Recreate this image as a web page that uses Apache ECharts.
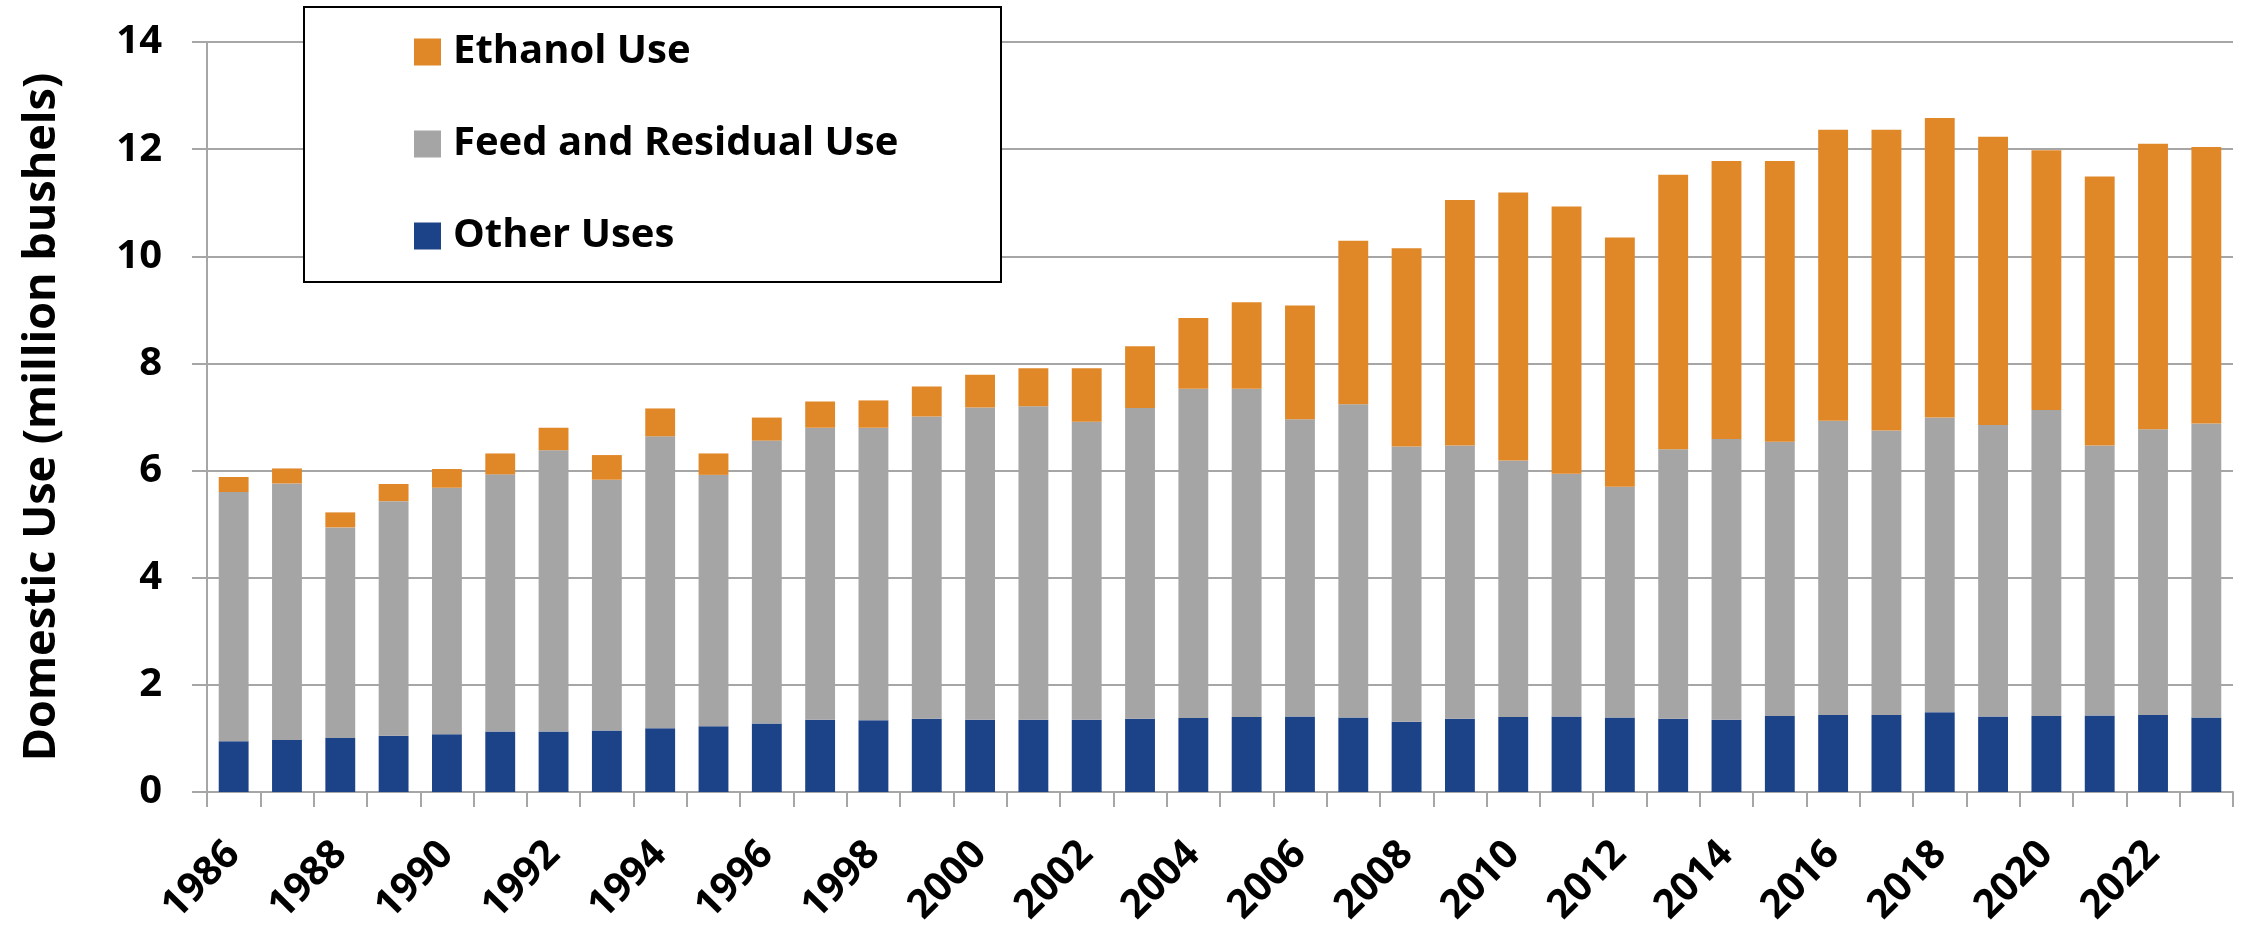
<!DOCTYPE html>
<html>
<head>
<meta charset="utf-8">
<title>Domestic Use</title>
<script src="https://cdn.jsdelivr.net/npm/echarts@6/dist/echarts.min.js"></script>
<style>
  html, body { margin: 0; padding: 0; background: #fff; }
  #container { width: 2244px; height: 929px; }
</style>
</head>
<body>
<div id="container"></div>
<script>
  // categories
  var years = ['1986', '1987', '1988', '1989', '1990', '1991', '1992', '1993', '1994', '1995',
    '1996', '1997', '1998', '1999', '2000', '2001', '2002', '2003', '2004', '2005',
    '2006', '2007', '2008', '2009', '2010', '2011', '2012', '2013', '2014', '2015',
    '2016', '2017', '2018', '2019', '2020', '2021', '2022', '2023'];

  // segment heights
  var otherUses = [0.95, 0.97, 1.01, 1.05, 1.08, 1.13, 1.13, 1.15, 1.19, 1.23,
    1.28, 1.35, 1.34, 1.37, 1.35, 1.35, 1.35, 1.37, 1.38, 1.40,
    1.41, 1.39, 1.31, 1.37, 1.40, 1.41, 1.39, 1.37, 1.35, 1.42,
    1.44, 1.44, 1.49, 1.41, 1.42, 1.43, 1.44, 1.39];
  var feedResidual = [4.65, 4.79, 3.93, 4.38, 4.60, 4.80, 5.25, 4.68, 5.45, 4.69,
    5.28, 5.45, 5.46, 5.64, 5.83, 5.85, 5.56, 5.80, 6.15, 6.13,
    5.55, 5.85, 5.14, 5.10, 4.79, 4.53, 4.31, 5.03, 5.24, 5.12,
    5.49, 5.31, 5.50, 5.44, 5.71, 5.04, 5.33, 5.49];
  var ethanolUse = [0.28, 0.28, 0.28, 0.32, 0.35, 0.39, 0.42, 0.46, 0.52, 0.40,
    0.43, 0.49, 0.51, 0.56, 0.61, 0.71, 1.00, 1.15, 1.32, 1.61,
    2.12, 3.05, 3.70, 4.58, 5.00, 4.99, 4.65, 5.12, 5.19, 5.24,
    5.43, 5.61, 5.59, 5.38, 4.85, 5.02, 5.33, 5.16];

  var legendNames = ['Ethanol Use', 'Feed and Residual Use', 'Other Uses'];

  var axisGray = '#a6a6a6';
  var labelFont = '"Open Sans", sans-serif';

  var chart = echarts.init(document.getElementById('container'));

  var option = {
    animation: false,
    backgroundColor: '#fff',
    color: ['#1c4288', '#a5a5a5', '#e08728'],
    grid: {
      left: 207,
      right: 11,
      top: 42,
      bottom: 133,
      containLabel: false
    },
    // legend frame, drawn over the grid lines
    graphic: [{
      type: 'rect',
      z: 10,
      shape: {x: 304, y: 7, width: 697, height: 275},
      style: {fill: '#fff', stroke: '#000', lineWidth: 2}
    }],
    legend: {
      z: 20,
      orient: 'vertical',
      left: 414,
      top: 27,
      padding: 0,
      itemGap: 42,
      itemWidth: 27,
      itemHeight: 27,
      icon: 'rect',
      selectedMode: false,
      data: legendNames,
      textStyle: {
        fontFamily: labelFont,
        fontWeight: 'bold',
        fontSize: 40,
        color: '#000',
        lineHeight: 50,
        padding: [0, 0, 0, 7]
      }
    },
    xAxis: {
      type: 'category',
      data: years,
      axisLine: {lineStyle: {color: axisGray, width: 2}},
      axisTick: {
        show: true,
        length: 15,
        alignWithLabel: false,
        interval: 0,
        lineStyle: {color: axisGray, width: 2}
      },
      axisLabel: {
        interval: 1,
        rotate: 45,
        margin: 56,
        color: '#000',
        fontFamily: labelFont,
        fontWeight: 'bold',
        fontSize: 40
      },
      splitLine: {show: false}
    },
    yAxis: {
      type: 'value',
      min: 0,
      max: 14,
      interval: 2,
      name: 'Domestic Use (million bushels)',
      nameLocation: 'middle',
      nameRotate: 90,
      nameGap: 142,
      nameTextStyle: {
        fontFamily: '"Open Sans", sans-serif',
        fontWeight: 'bold',
        fontSize: 45,
        color: '#000'
      },
      axisLine: {show: true, lineStyle: {color: axisGray, width: 2}},
      axisTick: {show: true, length: 15, lineStyle: {color: axisGray, width: 2}},
      axisLabel: {
        margin: 45,
        color: '#000',
        fontFamily: labelFont,
        fontWeight: 'bold',
        fontSize: 40
      },
      splitLine: {show: true, lineStyle: {color: axisGray, width: 2}}
    },
    series: [
      {
        name: 'Other Uses',
        type: 'bar',
        stack: 'use',
        barCategoryGap: '44%',
        data: otherUses
      },
      {
        name: 'Feed and Residual Use',
        type: 'bar',
        stack: 'use',
        data: feedResidual
      },
      {
        name: 'Ethanol Use',
        type: 'bar',
        stack: 'use',
        data: ethanolUse
      }
    ]
  };

  chart.setOption(option);
</script>
</body>
</html>
